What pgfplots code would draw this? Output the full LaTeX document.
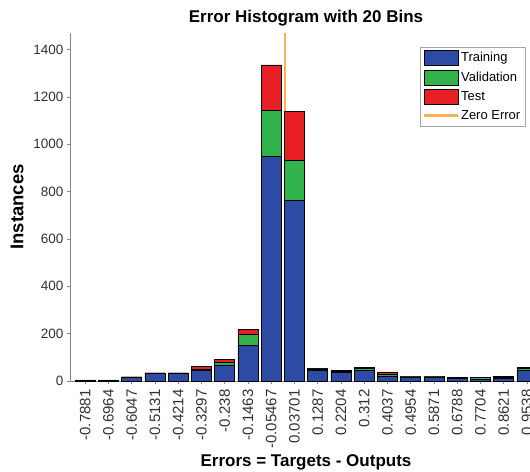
\documentclass[border=0pt]{standalone}
\usepackage{pgfplots}
\pgfplotsset{compat=1.18}
\usepackage{fontspec}
\setmainfont{Liberation Sans}
\definecolor{trainc}{RGB}{45,75,165}
\definecolor{valc}{RGB}{50,178,75}
\definecolor{testc}{RGB}{232,32,38}
\definecolor{zeroc}{RGB}{252,178,80}
\definecolor{axc}{RGB}{120,140,160}
\definecolor{tickc}{RGB}{50,50,50}
\pgfplotsset{
  barleg/.style={legend image code/.code={\draw[##1] (0bp,-7.5bp) rectangle (34bp,7.5bp);}},
  lineleg/.style={legend image code/.code={\draw[##1] (0bp,0bp) -- (34bp,0bp);}},
}
\begin{document}
\begin{tikzpicture}
\begin{axis}[name=ax, scale only axis, width=472bp, height=348bp,
  ybar stacked, bar width=0.86,
  xmin=-0.65, xmax=19.65, ymin=0, ymax=1470,
  axis x line*=bottom, axis y line*=left,
  axis line style={axc, line width=0.6bp},
  tick style={axc, line width=0.6bp}, tick align=outside, major tick length=3bp,
  xtick={0,...,19},
  xticklabels={-0.7881,-0.6964,-0.6047,-0.5131,-0.4214,-0.3297,-0.238,-0.1463,-0.05467,0.03701,0.1287,0.2204,0.312,0.4037,0.4954,0.5871,0.6788,0.7704,0.8621,0.9538},
  xticklabel style={rotate=90, anchor=east, font=\fontsize{15bp}{16bp}\selectfont, text=tickc},
  xticklabel shift=2bp,
  ytick={0,200,...,1400},
  yticklabel style={font=\fontsize{13.5bp}{15bp}\selectfont, text=tickc},
  /pgf/number format/assume math mode=true,
  /pgf/number format/1000 sep={},
  title={\bfseries Error Histogram with 20 Bins},
  title style={font=\fontsize{17bp}{19bp}\selectfont, yshift=-3bp},
  xlabel={\bfseries Errors = Targets - Outputs},
  ylabel={\bfseries Instances},
  xlabel style={font=\fontsize{17bp}{19bp}\selectfont, yshift=1bp},
  ylabel style={font=\fontsize{18.5bp}{20bp}\selectfont},
  ylabel shift=3bp,
  legend style={at={(1,1)}, anchor=north east, xshift=-17bp, yshift=-14bp,
    font=\fontsize{13bp}{15bp}\selectfont, draw=gray!70, inner xsep=3bp, inner ysep=3bp, row sep=4bp,
    nodes={inner xsep=1.5bp}},
  legend cell align=left,
]
\addplot[fill=trainc, draw=black, line width=0.4bp, barleg]
  coordinates {(0,3) (1,4) (2,14) (3,32) (4,32) (5,45) (6,68) (7,150) (8,950) (9,763)
  (10,45) (11,36) (12,45) (13,22) (14,16) (15,15) (16,12) (17,8) (18,13) (19,45)};
\addlegendentry{Training}
\addplot[fill=valc, draw=black, line width=0.4bp, barleg]
  coordinates {(0,1) (1,1) (2,3) (3,2) (4,2) (5,5) (6,10) (7,46) (8,192) (9,170)
  (10,6) (11,4) (12,8) (13,7) (14,2) (15,3) (16,2) (17,6) (18,2) (19,8)};
\addlegendentry{Validation}
\addplot[fill=testc, draw=black, line width=0.4bp, barleg]
  coordinates {(0,1) (1,0) (2,1) (3,1) (4,1) (5,13) (6,12) (7,22) (8,193) (9,207)
  (10,3) (11,4) (12,4) (13,10) (14,2) (15,2) (16,2) (17,2) (18,5) (19,6)};
\addlegendentry{Test}
\addplot[zeroc, line width=2.5bp, sharp plot, stack plots=false, lineleg]
  coordinates {(8.596,0) (8.596,1470)};
\addlegendentry{Zero Error}
\end{axis}
\pgfresetboundingbox
\path[use as bounding box] ([shift={(-70bp,-91bp)}]ax.south west) rectangle ([shift={(460bp,33bp)}]ax.north west);
\end{tikzpicture}
\end{document}
